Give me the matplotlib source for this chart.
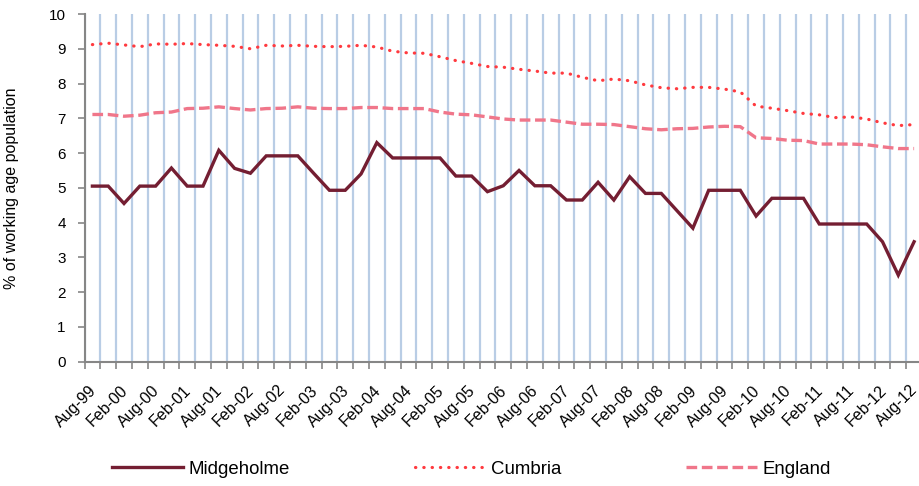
import matplotlib
matplotlib.use("Agg")
import matplotlib.pyplot as plt
from matplotlib.ticker import FixedLocator, MultipleLocator

plt.rcParams['font.family'] = ['Liberation Sans', 'DejaVu Sans']

tick_labels = ["Aug-99", "Feb-00", "Aug-00", "Feb-01", "Aug-01", "Feb-02", "Aug-02",
               "Feb-03", "Aug-03", "Feb-04", "Aug-04", "Feb-05", "Aug-05", "Feb-06",
               "Aug-06", "Feb-07", "Aug-07", "Feb-08", "Aug-08", "Feb-09", "Aug-09",
               "Feb-10", "Aug-10", "Feb-11", "Aug-11", "Feb-12", "Aug-12"]

midgeholme = [5.05, 5.05, 4.55, 5.05, 5.05, 5.57, 5.05, 5.05, 6.08, 5.56,
              5.42, 5.92, 5.92, 5.92, 5.42, 4.93, 4.93, 5.40, 6.30, 5.86,
              5.86, 5.86, 5.86, 5.34, 5.34, 4.89, 5.06, 5.50, 5.06, 5.06,
              4.65, 4.65, 5.16, 4.65, 5.32, 4.84, 4.84, 4.34, 3.84, 4.93,
              4.93, 4.93, 4.19, 4.70, 4.70, 4.70, 3.96, 3.96, 3.96, 3.96,
              3.45, 2.49, 3.45]

cumbria = [9.12, 9.16, 9.11, 9.06, 9.14, 9.13, 9.15, 9.12, 9.10, 9.07,
           9.00, 9.10, 9.08, 9.10, 9.07, 9.06, 9.07, 9.10, 9.05, 8.93,
           8.88, 8.87, 8.77, 8.66, 8.58, 8.49, 8.47, 8.41, 8.36, 8.30,
           8.30, 8.18, 8.08, 8.13, 8.08, 7.96, 7.88, 7.85, 7.89, 7.89,
           7.84, 7.76, 7.35, 7.29, 7.22, 7.14, 7.10, 7.02, 7.04, 6.98,
           6.87, 6.79, 6.82]

england = [7.11, 7.11, 7.06, 7.09, 7.16, 7.18, 7.28, 7.29, 7.33, 7.28,
           7.24, 7.28, 7.29, 7.33, 7.29, 7.28, 7.28, 7.31, 7.31, 7.28,
           7.28, 7.28, 7.18, 7.12, 7.10, 7.04, 6.98, 6.95, 6.95, 6.95,
           6.89, 6.83, 6.83, 6.82, 6.76, 6.70, 6.67, 6.70, 6.71, 6.75,
           6.77, 6.76, 6.44, 6.42, 6.37, 6.36, 6.26, 6.26, 6.26, 6.24,
           6.18, 6.13, 6.13]

W, H = 919, 486
fig = plt.figure(figsize=(W / 100, H / 100), dpi=100)
left, right, top, bottom = 84.5, 922, 14, 361.7
ax = fig.add_axes([left / W, 1 - bottom / H, (right - left) / W, (bottom - top) / H])

x = list(range(len(midgeholme)))
ax.plot(x, midgeholme, color='#741E32', lw=2.4, solid_joinstyle='miter', label='Midgeholme', zorder=4)
ax.plot(x, cumbria, color='#FF3A3F', lw=2.3, linestyle=(0, (0.1, 2.5)), dash_capstyle='round',
        label='Cumbria', zorder=3)
ax.plot(x, england, color='#F0768A', lw=2.4, linestyle=(0, (3.2, 1.4)), dash_capstyle='butt',
        label='England', zorder=3)

n = len(midgeholme)
ax.set_xlim(-0.5, n - 0.5)
ax.set_ylim(0, 10)

label_offset = -0.25  # nudge rotated labels so their ends sit at the category centre
ax.xaxis.set_major_locator(FixedLocator([i + label_offset for i in range(0, n, 2)]))
ax.set_xticklabels(tick_labels, rotation=45, ha='right', va='top', rotation_mode='anchor', fontsize=11.5)
ax.xaxis.set_minor_locator(FixedLocator([i + 0.5 for i in range(-1, n - 1)]))
ax.tick_params(axis='x', which='major', length=0, pad=15)
ax.tick_params(axis='x', which='minor', length=5, width=1.2, color='#868686', direction='out')
ax.grid(True, axis='x', which='minor', color='#B9CDE5', lw=1.6, zorder=0)
ax.set_axisbelow(True)

ax.yaxis.set_major_locator(MultipleLocator(1))
ax.tick_params(axis='y', length=5, width=1.2, color='#868686', labelsize=11, pad=8.5)

for s in ['top', 'right']:
    ax.spines[s].set_visible(False)
for s in ['left', 'bottom']:
    ax.spines[s].set_color('#868686')
    ax.spines[s].set_linewidth(1.5)

ax.set_ylabel('% of working age population', fontsize=11.5)
ax.yaxis.set_label_coords(-(84.5 - 19) / (right - left), 0.5)

leg = fig.legend(loc='center', bbox_to_anchor=(471.5 / W, 1 - 469 / H), ncol=3, frameon=False,
                 fontsize=13.4, handlelength=3.8, columnspacing=6.7, handletextpad=0.3)

fig.savefig('out.png', dpi=100)
